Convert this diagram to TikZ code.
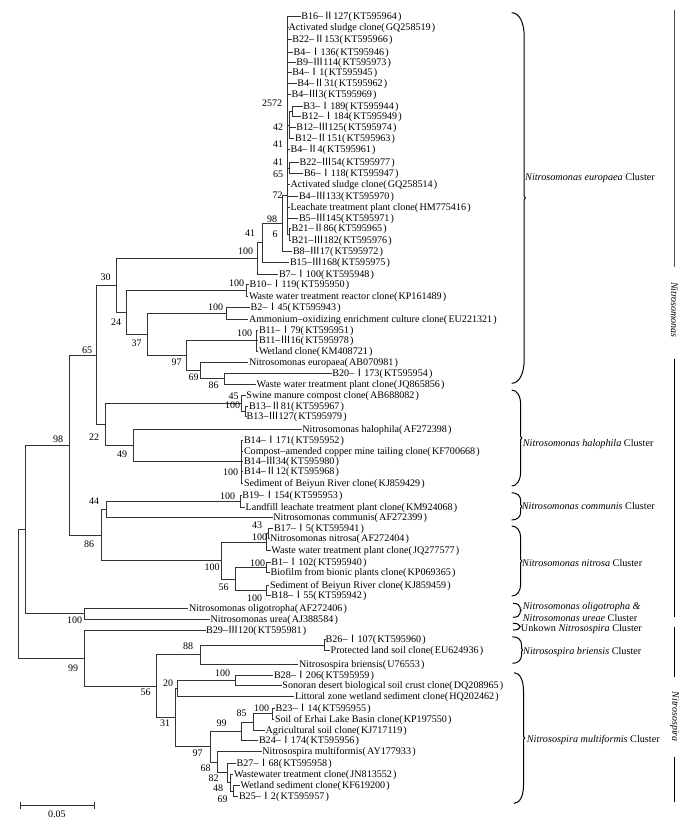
\documentclass[tikz,border=0pt]{standalone}
\usepackage{fontspec}
\setmainfont{Liberation Serif}
\newfontfamily\cjkfont{Noto Sans CJK SC}
\newcommand{\RomA}{{\cjkfont Ⅰ}}
\newcommand{\RomB}{{\cjkfont Ⅱ}}
\newcommand{\RomC}{{\cjkfont Ⅲ}}
\newcommand{\ac}[1]{(\kern1.2pt#1\kern1.2pt)}
\newcommand{\clbrace}[5]{%
  \draw[brc] (#1,#2) .. controls ({#1+0.6*#4},#2) and ({#1+#4},{#2+0.4*#5}) .. ({#1+#4},{#2+#5})
    -- ({#1+#4},{(#2+#3)/2-1.5}) -- ({#1+#4+1.2},{(#2+#3)/2}) -- ({#1+#4},{(#2+#3)/2+1.5})
    -- ({#1+#4},{#3-#5}) .. controls ({#1+#4},{#3-0.4*#5}) and ({#1+0.6*#4},#3) .. (#1,#3);}
\begin{document}
\begin{tikzpicture}[x=1pt,y=-1pt,
  br/.style={draw=black!80, line width=1pt},
  brc/.style={draw=black, line width=1pt},
  leaf/.style={anchor=west, inner xsep=0.5pt, inner ysep=0pt, text height=6.7pt, text depth=0pt, font=\fontsize{10.1}{12}\selectfont},
  bs/.style={inner sep=0pt, text height=6.7pt, text depth=0pt, font=\fontsize{10}{12}\selectfont},
  clu/.style={anchor=west, inner sep=0pt, text height=6.8pt, text depth=0pt, font=\fontsize{10.2}{12}\selectfont},
  genus/.style={inner sep=0pt, rotate=-90, font=\fontsize{10}{12}\selectfont\itshape}]
\fill[white] (0,0) rectangle (692,831);
\useasboundingbox (0,0) rectangle (692,831);

% ---------- leaves ----------
\node[leaf] (l1) at (300.7,16.5) {B16–\RomB127\ac{KT595964}};
\node[leaf] (l2) at (288,27.5) {Activated sludge clone\ac{GQ258519}};
\node[leaf] (l3) at (291.7,39.5) {B22–\RomB153\ac{KT595966}};
\node[leaf] (l4) at (293,52.5) {B4–\RomA136\ac{KT595946}};
\node[leaf] (l5) at (295.7,62.5) {B9–\RomC114\ac{KT595973}};
\node[leaf] (l6) at (291.7,72.5) {B4–\RomA1\ac{KT595945}};
\node[leaf] (l7) at (296.7,83.5) {B4–\RomB31\ac{KT595962}};
\node[leaf] (l8) at (291,94.5) {B4–\RomC3\ac{KT595969}};
\node[leaf] (l9) at (302.7,106.5) {B3–\RomA189\ac{KT595944}};
\node[leaf] (l10) at (301,116.5) {B12–\RomA184\ac{KT595949}};
\node[leaf] (l11) at (295.7,127.5) {B12–\RomC125\ac{KT595974}};
\node[leaf] (l12) at (294.3,138.5) {B12–\RomB151\ac{KT595963}};
\node[leaf] (l13) at (290,149.5) {B4–\RomB4\ac{KT595961}};
\node[leaf] (l14) at (299,162.5) {B22–\RomC54\ac{KT595977}};
\node[leaf] (l15) at (303.3,173.5) {B6–\RomA118\ac{KT595947}};
\node[leaf] (l16) at (290,184.5) {Activated sludge clone\ac{GQ258514}};
\node[leaf] (l17) at (298.3,196.5) {B4–\RomC133\ac{KT595970}};
\node[leaf] (l18) at (290,207.5) {Leachate treatment plant clone\ac{HM775416}};
\node[leaf] (l19) at (298.3,218.5) {B5–\RomC145\ac{KT595971}};
\node[leaf] (l20) at (291,228.5) {B21–\RomB86\ac{KT595965}};
\node[leaf] (l21) at (291,240.5) {B21–\RomC182\ac{KT595976}};
\node[leaf] (l22) at (292.3,251.5) {B8–\RomC17\ac{KT595972}};
\node[leaf] (l23) at (289.3,262.5) {B15–\RomC168\ac{KT595975}};
\node[leaf] (l24) at (278.3,274.5) {B7–\RomA100\ac{KT595948}};
\node[leaf] (l25) at (249,284.5) {B10–\RomA119\ac{KT595950}};
\node[leaf] (l26) at (248.3,296.5) {Waste water treatment reactor clone\ac{KP161489}};
\node[leaf] (l27) at (250,307.5) {B2–\RomA45\ac{KT595943}};
\node[leaf] (l28) at (248.3,319.5) {Ammonium–oxidizing enrichment culture clone\ac{EU221321}};
\node[leaf] (l29) at (258.3,330.5) {B11–\RomA79\ac{KT595951}};
\node[leaf] (l30) at (258.3,340.5) {B11–\RomC16\ac{KT595978}};
\node[leaf] (l31) at (258.3,351.5) {Wetland clone\ac{KM408721}};
\node[leaf] (l32) at (248.3,362.5) {Nitrosomonas europaea\ac{AB070981}};
\node[leaf] (l33) at (331.7,373.5) {B20–\RomA173\ac{KT595954}};
\node[leaf] (l34) at (256,384.5) {Waste water treatment plant clone\ac{JQ865856}};
\node[leaf] (l35) at (245.7,395.5) {Swine manure compost clone\ac{AB688082}};
\node[leaf] (l36) at (248.3,406.5) {B13–\RomB81\ac{KT595967}};
\node[leaf] (l37) at (246,416.5) {B13–\RomC127\ac{KT595979}};
\node[leaf] (l38) at (301.7,429.5) {Nitrosomonas halophila\ac{AF272398}};
\node[leaf] (l39) at (243.3,440.5) {B14–\RomA171\ac{KT595952}};
\node[leaf] (l40) at (243.3,451.5) {Compost–amended copper mine tailing clone\ac{KF700668}};
\node[leaf] (l41) at (243.3,461.5) {B14–\RomC34\ac{KT595980}};
\node[leaf] (l42) at (243.3,471.5) {B14–\RomB12\ac{KT595968}};
\node[leaf] (l43) at (243.3,483.5) {Sediment of Beiyun River clone\ac{KJ859429}};
\node[leaf] (l44) at (241.7,495.5) {B19–\RomA154\ac{KT595953}};
\node[leaf] (l45) at (245,507.5) {Landfill leachate treatment plant clone\ac{KM924068}};
\node[leaf] (l46) at (272.7,517.5) {Nitrosomonas communis\ac{AF272399}};
\node[leaf] (l47) at (273.3,528.5) {B17–\RomA5\ac{KT595941}};
\node[leaf] (l48) at (269.3,538.5) {Nitrosomonas nitrosa\ac{AF272404}};
\node[leaf] (l49) at (270.7,550.5) {Waste water treatment plant clone\ac{JQ277577}};
\node[leaf] (l50) at (270.7,562.5) {B1–\RomA102\ac{KT595940}};
\node[leaf] (l51) at (270,572.5) {Biofilm from bionic plants clone\ac{KP069365}};
\node[leaf] (l52) at (269.3,585.5) {Sediment of Beiyun River clone\ac{KJ859459}};
\node[leaf] (l53) at (270.7,595.5) {B18–\RomA55\ac{KT595942}};
\node[leaf] (l54) at (188.3,608.5) {Nitrosomonas oligotropha\ac{AF272406}};
\node[leaf] (l55) at (210,619.5) {Nitrosomonas urea\ac{AJ388584}};
\node[leaf] (l56) at (205.5,630.5) {B29–\RomC120\ac{KT595981}};
\node[leaf] (l57) at (325,639.5) {B26–\RomA107\ac{KT595960}};
\node[leaf] (l58) at (330,650.5) {Protected land soil clone\ac{EU624936}};
\node[leaf] (l59) at (298.3,664.5) {Nitrosospira briensis\ac{U76553}};
\node[leaf] (l60) at (273.3,675.5) {B28–\RomA206\ac{KT595959}};
\node[leaf] (l61) at (281.7,685.5) {Sonoran desert biological soil crust clone\ac{DQ208965}};
\node[leaf] (l62) at (294.3,696.5) {Littoral zone wetland sediment clone\ac{HQ202462}};
\node[leaf] (l63) at (275,708.5) {B23–\RomA14\ac{KT595955}};
\node[leaf] (l64) at (274.3,719.5) {Soil of Erhai Lake Basin clone\ac{KP197550}};
\node[leaf] (l65) at (265,730.5) {Agricultural soil clone\ac{KJ717119}};
\node[leaf] (l66) at (258.3,740.5) {B24–\RomA174\ac{KT595956}};
\node[leaf] (l67) at (261.7,751.5) {Nitrosospira multiformis\ac{AY177933}};
\node[leaf] (l68) at (236,763.5) {B27–\RomA68\ac{KT595958}};
\node[leaf] (l69) at (233.3,774.5) {Wastewater treatment clone\ac{JN813552}};
\node[leaf] (l70) at (240,785.5) {Wetland sediment clone\ac{KF619200}};
\node[leaf] (l71) at (238.3,796.5) {B25–\RomA2\ac{KT595957}};

% ---------- internal nodes ----------
\coordinate (R) at (18.5,593.5);
\coordinate (NM) at (25.5,529.5);
\coordinate (NS) at (84.5,658.5);
\coordinate (n98) at (69.5,445.5);
\coordinate (nOU) at (84.5,613.5);
\coordinate (n65) at (96.5,355.5);
\coordinate (n86a) at (101.5,535.5);
\coordinate (n30) at (116.5,285.5);
\coordinate (n22) at (105.5,424.5);
\coordinate (nE100) at (257.5,258.5);
\coordinate (nE41) at (262.5,242.5);
\coordinate (nE98) at (282.5,223.5);
\coordinate (nE72) at (287.5,195.5);
\coordinate (nA) at (292.5,111.5);
\coordinate (nB) at (289.5,125.5);
\coordinate (nC) at (289.5,168.5);
\coordinate (nD) at (289.5,234.5);
\coordinate (n24) at (126.5,312.5);
\coordinate (nB10) at (246.5,290.5);
\coordinate (n37) at (147.5,334.5);
\coordinate (nB2) at (226.5,313.5);
\coordinate (n97a) at (186.5,355.5);
\coordinate (nB11) at (256.5,340.5);
\coordinate (n69a) at (200.5,370.5);
\coordinate (n86b) at (224.5,378.5);
\coordinate (n45) at (241.5,403.5);
\coordinate (n100b) at (245.5,411.5);
\coordinate (n49) at (133.5,445.5);
\coordinate (nB14) at (241.5,461.5);
\coordinate (n44) at (106.5,509.5);
\coordinate (nB19) at (240.5,501.5);
\coordinate (n100n) at (221.5,560.5);
\coordinate (n100c) at (266.5,542.5);
\coordinate (n43) at (268.5,533.5);
\coordinate (n56a) at (235.5,579.5);
\coordinate (nB1) at (266.5,567.5);
\coordinate (nSed) at (266.5,590.5);
\coordinate (n56b) at (156.5,686.5);
\coordinate (n88) at (200.5,654.5);
\coordinate (nB26) at (324.5,645.5);
\coordinate (n31) at (175.5,717.5);
\coordinate (n20) at (177.5,688.5);
\coordinate (nB28) at (235.5,680.5);
\coordinate (n97b) at (210.5,746.5);
\coordinate (n99b) at (241.5,731.5);
\coordinate (n85) at (253.5,722.5);
\coordinate (n100e) at (272.5,713.5);
\coordinate (n68) at (217.5,762.5);
\coordinate (n82) at (227.5,772.5);
\coordinate (n48) at (230.5,782.5);
\coordinate (n69b) at (233.5,791.5);

% ---------- branches ----------
\foreach \p/\c in {R/NM, R/NS, NM/n98, NM/nOU, n98/n65, n98/n86a, n65/n30, n65/n22,
  n30/nE100, n30/n24, nE100/nE41, nE41/nE98, nE98/nE72, nE72/nB, nB/nA, nE72/nC, nE72/nD,
  n24/nB10, n24/n37, n37/nB2, n37/n97a, n97a/nB11, n97a/n69a, n69a/n86b,
  n22/n45, n45/n100b, n22/n49, n49/nB14, n86a/n44, n44/nB19, n86a/n100n,
  n100n/n100c, n100c/n43, n100n/n56a, n56a/nB1, n56a/nSed,
  NS/n56b, n56b/n88, n88/nB26, n56b/n31, n31/n20, n20/nB28, n31/n97b,
  n97b/n99b, n99b/n85, n85/n100e, n97b/n68, n68/n82, n82/n48, n48/n69b}
  \draw[br] (\p) |- (\c);
\foreach \p/\c in {nE72/l1, nE72/l2, nE72/l3, nE72/l4, nE72/l5, nE72/l6, nE72/l7, nE72/l8,
  nE72/l13, nE72/l16, nE72/l17, nE72/l18, nE72/l19, nA/l9, nA/l10, nB/l11, nB/l12,
  nC/l14, nC/l15, nD/l20, nD/l21, nE98/l22, nE41/l23, nE100/l24,
  nB10/l25, nB10/l26, nB2/l27, nB2/l28, nB11/l29, nB11/l30, nB11/l31, n69a/l32,
  n86b/l33, n86b/l34, n45/l35, n100b/l36, n100b/l37, n49/l38,
  nB14/l39, nB14/l40, nB14/l41, nB14/l42, nB14/l43, nB19/l44, nB19/l45, n44/l46,
  n43/l47, n43/l48, n100c/l49, nB1/l50, nB1/l51, nSed/l52, nSed/l53,
  nOU/l54, nOU/l55, NS/l56, nB26/l57, nB26/l58, n88/l59, nB28/l60, nB28/l61, n20/l62,
  n100e/l63, n100e/l64, n85/l65, n99b/l66, n68/l67, n82/l68, n48/l69, n69b/l70, n69b/l71}
  \draw[br] (\p) |- (\c.west);

% ---------- bootstrap values ----------
\node[bs] (s1) at (272,102.7) {2572};
\node[bs] (s2) at (278,126.7) {42};
\node[bs] (s3) at (278,144.3) {41};
\node[bs] (s4) at (278,162.3) {41};
\node[bs] (s5) at (278,173.7) {65};
\node[bs] (s6) at (277.5,195) {72};
\node[bs] (s7) at (272,219.5) {98};
\node[bs] (s8) at (250,233.3) {41};
\node[bs] (s9) at (275,234.3) {6};
\node[bs] (s10) at (245.5,250.7) {100};
\node[bs] (s11) at (236.5,283.5) {100};
\node[bs] (s12) at (105.7,277.3) {30};
\node[bs] (s13) at (116,321.7) {24};
\node[bs] (s14) at (215.5,306.7) {100};
\node[bs] (s15) at (136.7,343.3) {37};
\node[bs] (s16) at (244.5,333.3) {100};
\node[bs] (s17) at (176.5,361.7) {97};
\node[bs] (s18) at (193.5,376.7) {69};
\node[bs] (s19) at (213.5,385) {86};
\node[bs] (s20) at (87,350) {65};
\node[bs] (s21) at (233.5,395.7) {45};
\node[bs] (s22) at (232.5,405.2) {100};
\node[bs] (s23) at (94,436.7) {22};
\node[bs] (s24) at (122,454) {49};
\node[bs] (s25) at (230.5,472) {100};
\node[bs] (s26) at (58,439.3) {98};
\node[bs] (s27) at (227.5,496.2) {100};
\node[bs] (s28) at (94,500.7) {44};
\node[bs] (s29) at (89,544) {86};
\node[bs] (s30) at (257,525) {43};
\node[bs] (s31) at (259.5,537.3) {100};
\node[bs] (s32) at (212,567.3) {100};
\node[bs] (s33) at (257.5,562.7) {100};
\node[bs] (s34) at (223.5,586.7) {56};
\node[bs] (s35) at (254.5,598.3) {100};
\node[bs] (s36) at (74.5,620) {100};
\node[bs] (s37) at (73,668.3) {99};
\node[bs] (s38) at (188,646) {88};
\node[bs] (s39) at (145.5,691.7) {56};
\node[bs] (s40) at (222.5,672.7) {100};
\node[bs] (s41) at (168,683.3) {20};
\node[bs] (s42) at (165,723.3) {31};
\node[bs] (s43) at (261.5,707.7) {100};
\node[bs] (s44) at (241.5,713) {85};
\node[bs] (s45) at (221.5,723) {99};
\node[bs] (s46) at (197.5,753) {97};
\node[bs] (s47) at (205.5,767.7) {68};
\node[bs] (s48) at (213.5,777.7) {82};
\node[bs] (s49) at (218,787.7) {48};
\node[bs] (s50) at (222.5,799) {69};

% ---------- cluster braces and labels ----------
\clbrace{511.7}{12.7}{383.3}{12.5}{24}
\clbrace{511.7}{390}{486}{9}{15}
\clbrace{511.7}{492.7}{520}{9}{8}
\clbrace{511.7}{526}{596}{9}{12}
\clbrace{513}{603.3}{617.3}{7}{4}
\clbrace{513}{623.3}{630}{6}{2}
\clbrace{512.5}{636.7}{663.3}{9}{8}
\clbrace{514}{672.7}{803.3}{9.5}{18}
\node[clu] (c1) at (525,176.7) {\textit{Nitrosomonas europaea} Cluster};
\node[clu] (c2) at (522.7,443.3) {\textit{Nitrosomonas halophila} Cluster};
\node[clu] (c3) at (521.7,506) {\textit{Nitrosomonas communis} Cluster};
\node[clu] (c4) at (522,563.3) {\textit{Nitrosomonas nitrosa} Cluster};
\node[clu] (c5) at (522.7,605.7) {\textit{Nitrosomonas oligotropha \&}};
\node[clu] (c6) at (522.7,618) {\textit{Nitrosomonas ureae} Cluster};
\node[clu] (c7) at (520.7,628.5) {Unkown \textit{Nitrosospira} Cluster};
\node[clu] (c8) at (523,650.7) {\textit{Nitrosospira briensis} Cluster};
\node[clu] (c9) at (526.7,739.3) {\textit{Nitrosospira multiformis} Cluster};

% ---------- genus bars ----------
\node[genus] (g1) at (674.5,310) {Nitrosomonas};
\node[genus] (g2) at (674.5,716.7) {Nitrosospira};
\draw[draw=black!70, line width=1pt] (674.5,9.5) -- (674.5,266.5);
\draw[draw=black, line width=1pt] (674.5,358.5) -- (674.5,616.5);
\draw[draw=black, line width=1pt] (674.5,626.5) -- (674.5,676.5);
\draw[draw=black, line width=1pt] (674.5,756.5) -- (674.5,801.5);

% ---------- scale bar ----------
\coordinate (sb1) at (20.5,805.5);
\coordinate (sb2) at (94.5,805.5);
\draw[br] (sb1) -- (sb2);
\draw[br] (20.5,801.5) -- (20.5,808.5);
\draw[br] (94.5,801.5) -- (94.5,808.5);
\node[bs] (sbl) at (57,814.5) {0.05};
\end{tikzpicture}
\end{document}
